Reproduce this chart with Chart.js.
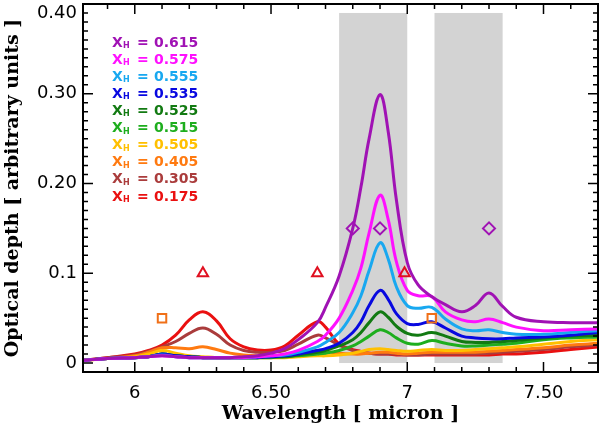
<!DOCTYPE html>
<html>
<head>
<meta charset="utf-8">
<script src="https://cdn.jsdelivr.net/npm/chart.js@4.4.1/dist/chart.umd.min.js"></script>
<style>
  body { margin: 0; background: #fff; }
</style>
</head>
<body>
<canvas id="opticalDepthChart" width="600" height="429"></canvas>
<script>
// wavelength grid (micron)
const wavelength = [5.81, 5.9, 6.0, 6.05, 6.1, 6.15, 6.2, 6.25, 6.3, 6.35, 6.4, 6.45, 6.5, 6.55, 6.6, 6.67, 6.7, 6.75,
  6.8, 6.83, 6.86, 6.9, 6.93, 6.96, 7.0, 7.04, 7.09, 7.14, 7.2, 7.25, 7.3, 7.35, 7.4, 7.5, 7.6, 7.7];

// optical depth, one list per X_H
const xh615 = [0.003, 0.005, 0.006, 0.007, 0.008, 0.007, 0.006, 0.006, 0.006, 0.006, 0.007, 0.008, 0.011, 0.016, 0.026, 0.045, 0.062, 0.097,
  0.150, 0.196, 0.250, 0.299, 0.258, 0.182, 0.112, 0.087, 0.074, 0.065, 0.057, 0.064, 0.078, 0.063, 0.051, 0.046, 0.045, 0.045];
const xh575 = [0.003, 0.005, 0.006, 0.007, 0.008, 0.007, 0.006, 0.006, 0.006, 0.006, 0.006, 0.007, 0.008, 0.010, 0.014, 0.024, 0.031, 0.050,
  0.081, 0.106, 0.145, 0.187, 0.160, 0.113, 0.081, 0.075, 0.074, 0.057, 0.048, 0.046, 0.049, 0.045, 0.040, 0.036, 0.037, 0.038];
const xh555 = [0.003, 0.005, 0.006, 0.007, 0.009, 0.007, 0.006, 0.006, 0.006, 0.006, 0.006, 0.007, 0.008, 0.009, 0.012, 0.018, 0.023, 0.034,
  0.056, 0.075, 0.103, 0.134, 0.116, 0.085, 0.064, 0.061, 0.062, 0.049, 0.038, 0.036, 0.037, 0.034, 0.032, 0.032, 0.034, 0.036];
const xh535 = [0.003, 0.005, 0.006, 0.007, 0.010, 0.008, 0.007, 0.006, 0.006, 0.006, 0.006, 0.006, 0.007, 0.008, 0.010, 0.014, 0.016, 0.022,
  0.034, 0.046, 0.064, 0.081, 0.071, 0.055, 0.044, 0.043, 0.046, 0.039, 0.030, 0.028, 0.027, 0.027, 0.028, 0.029, 0.031, 0.034];
const xh525 = [0.003, 0.005, 0.006, 0.007, 0.010, 0.008, 0.007, 0.006, 0.006, 0.006, 0.006, 0.006, 0.007, 0.007, 0.009, 0.012, 0.014, 0.019,
  0.026, 0.034, 0.045, 0.057, 0.051, 0.041, 0.033, 0.031, 0.034, 0.030, 0.024, 0.023, 0.023, 0.024, 0.025, 0.028, 0.030, 0.031];
const xh515 = [0.003, 0.005, 0.006, 0.007, 0.010, 0.008, 0.007, 0.006, 0.006, 0.006, 0.006, 0.006, 0.006, 0.007, 0.008, 0.010, 0.011, 0.014,
  0.019, 0.024, 0.030, 0.037, 0.034, 0.028, 0.022, 0.021, 0.025, 0.022, 0.019, 0.019, 0.020, 0.021, 0.022, 0.026, 0.028, 0.029];
const xh505 = [0.003, 0.005, 0.007, 0.010, 0.014, 0.011, 0.008, 0.007, 0.006, 0.006, 0.006, 0.006, 0.006, 0.006, 0.007, 0.008, 0.008, 0.009,
  0.011, 0.013, 0.015, 0.016, 0.015, 0.014, 0.013, 0.014, 0.015, 0.014, 0.014, 0.015, 0.016, 0.017, 0.018, 0.021, 0.024, 0.026];
const xh405 = [0.003, 0.005, 0.008, 0.012, 0.017, 0.017, 0.016, 0.018, 0.015, 0.011, 0.009, 0.008, 0.008, 0.009, 0.011, 0.014, 0.013, 0.011,
  0.010, 0.010, 0.011, 0.012, 0.012, 0.011, 0.010, 0.011, 0.012, 0.012, 0.012, 0.012, 0.013, 0.014, 0.015, 0.017, 0.020, 0.022];
const xh305 = [0.003, 0.006, 0.009, 0.013, 0.018, 0.024, 0.033, 0.039, 0.032, 0.020, 0.014, 0.012, 0.012, 0.014, 0.021, 0.031, 0.028, 0.020,
  0.014, 0.012, 0.011, 0.010, 0.010, 0.010, 0.009, 0.009, 0.010, 0.010, 0.010, 0.010, 0.011, 0.012, 0.013, 0.015, 0.018, 0.020];
const xh175 = [0.003, 0.006, 0.010, 0.014, 0.020, 0.031, 0.048, 0.057, 0.047, 0.027, 0.018, 0.0145, 0.0145, 0.019, 0.031, 0.046, 0.040, 0.021,
  0.015, 0.013, 0.011, 0.010, 0.010, 0.009, 0.009, 0.009, 0.009, 0.009, 0.009, 0.009, 0.009, 0.010, 0.010, 0.012, 0.015, 0.018];

const seriesValues = [xh615, xh575, xh555, xh535, xh525, xh515, xh505, xh405, xh305, xh175];
const seriesNames = ['0.615', '0.575', '0.555', '0.535', '0.525', '0.515', '0.505', '0.405', '0.305', '0.175'];
const seriesColors = ['#a012b4', '#ff10ff', '#18a8f0', '#0808e0', '#127a12', '#1eae1e', '#ffc000', '#ff7a10', '#aa3c3c', '#ea1010'];

// band markers
const diamondX = [6.80, 6.90, 7.30];
const diamondY = [0.15, 0.15, 0.15];
const triangleX = [6.25, 6.67, 6.99];
const triangleY = [0.10, 0.10, 0.10];
const squareX = [6.10, 7.09];
const squareY = [0.05, 0.05];

// shaded wavelength windows
const bandStart = [6.75, 7.10];
const bandEnd = [7.00, 7.35];
const bandTop = 0.39;

// axes
const xTicks = [6, 6.5, 7, 7.5];
const xTickLabels = ['6', '6.50', '7', '7.50'];
const yTicks = [0, 0.1, 0.2, 0.3, 0.4];
const yTickLabels = ['0', '0.1', '0.20', '0.30', '0.40'];

const toPoints = (xs, ys) => xs.map((x, i) => ({ x: x, y: ys[i] }));

const datasets = seriesValues.map((vals, i) => ({
  data: toPoints(wavelength, vals),
  borderColor: seriesColors[i],
  borderWidth: 3,
  pointRadius: 0,
  tension: 0.4,
  order: i - 20
})).reverse();

const markerSet = (xs, ys, style, color, r) => ({
  data: toPoints(xs, ys),
  showLine: false,
  pointStyle: style,
  pointRadius: r,
  pointBorderWidth: 2,
  pointBorderColor: color,
  pointBackgroundColor: 'rgba(0,0,0,0)',
  order: -50
});
datasets.push(markerSet(diamondX, diamondY, 'rectRot', '#a012b4', 6));
datasets.push(markerSet(triangleX, triangleY, 'triangle', '#e01020', 6));
datasets.push(markerSet(squareX, squareY, 'rect', '#f07018', 6));

const bandsPlugin = {
  id: 'bands',
  beforeDatasetsDraw(chart) {
    const { ctx, scales: { x, y } } = chart;
    ctx.save();
    ctx.fillStyle = '#d3d3d3';
    for (let i = 0; i < bandStart.length; i++) {
      const x0 = x.getPixelForValue(bandStart[i]);
      const x1 = x.getPixelForValue(bandEnd[i]);
      const y0 = y.getPixelForValue(bandTop);
      const y1 = y.getPixelForValue(0);
      ctx.fillRect(x0, y0, x1 - x0, y1 - y0);
    }
    ctx.restore();
  }
};

// IDL style frame with inward ticks on all four sides
const framePlugin = {
  id: 'frame',
  afterDraw(chart) {
    const { ctx, chartArea: { left, right, top, bottom }, scales: { x, y } } = chart;
    ctx.save();
    ctx.strokeStyle = '#000';
    ctx.lineWidth = 1.5;
    ctx.beginPath();
    for (let k = 59; k <= 77; k++) {
      const px = x.getPixelForValue(k / 10);
      const len = k % 5 === 0 ? 10 : 5;
      ctx.moveTo(px, bottom); ctx.lineTo(px, bottom - len);
      ctx.moveTo(px, top); ctx.lineTo(px, top + len);
    }
    for (let k = 0; k <= 40; k++) {
      const py = y.getPixelForValue(k / 100);
      const len = k % 10 === 0 ? 10 : 5;
      ctx.moveTo(left, py); ctx.lineTo(left + len, py);
      ctx.moveTo(right, py); ctx.lineTo(right - len, py);
    }
    ctx.stroke();
    ctx.lineWidth = 2;
    ctx.strokeRect(left, top, right - left, bottom - top);
    ctx.restore();
  }
};

// X_H labels inside the plot
const keyPlugin = {
  id: 'key',
  afterDatasetsDraw(chart) {
    const ctx = chart.ctx;
    ctx.save();
    ctx.textBaseline = 'middle';
    ctx.textAlign = 'left';
    seriesNames.forEach((name, i) => {
      const yy = 43 + i * 17.1;
      ctx.fillStyle = seriesColors[i];
      ctx.font = 'bold 14px "DejaVu Sans"';
      ctx.fillText('X', 112, yy);
      ctx.font = 'bold 8px "DejaVu Sans"';
      ctx.fillText('H', 123, yy + 3);
      ctx.font = 'bold 14px "DejaVu Sans"';
      ctx.fillText('=', 137, yy);
      ctx.fillText(name, 154, yy);
    });
    ctx.restore();
  }
};

const tickFont = { family: 'DejaVu Sans', size: 18 };
const titleFont = { family: 'DejaVu Serif', size: 19, weight: 'bold' };

const ctx = document.getElementById('opticalDepthChart').getContext('2d');
const opticalDepthChart = new Chart(ctx, {
  type: 'line',
  data: { datasets: datasets },
  options: {
    responsive: false,
    animation: false,
    layout: { autoPadding: false, padding: { top: 4, right: 2, left: 0, bottom: 0 } },
    plugins: { legend: { display: false }, tooltip: { enabled: false } },
    scales: {
      x: {
        type: 'linear',
        min: 5.81,
        max: 7.7,
        afterBuildTicks: s => { s.ticks = xTicks.map(v => ({ value: v })); },
        afterFit: s => { s.height = 57; s.paddingLeft = 0; s.paddingRight = 0; },
        ticks: {
          callback: (v, i) => xTickLabels[i],
          font: tickFont, color: '#000', padding: 11, maxRotation: 0, autoSkip: false
        },
        grid: { display: false, drawTicks: false },
        border: { display: false },
        title: { display: true, text: 'Wavelength [ micron ]', font: titleFont, color: '#000', padding: { top: 0, bottom: 4 } }
      },
      y: {
        type: 'linear',
        min: -0.01,
        max: 0.40,
        afterBuildTicks: s => { s.ticks = yTicks.map(v => ({ value: v })); },
        afterFit: s => { s.width = 83; s.paddingTop = 0; s.paddingBottom = 0; },
        ticks: {
          // top label sits just under the frame, as in the original
          callback: (v, i) => (i === yTicks.length - 1 ? ['', yTickLabels[i]] : yTickLabels[i]),
          font: { family: 'DejaVu Sans', size: 18, lineHeight: 1.0 },
          color: '#000', padding: 6, autoSkip: false
        },
        grid: { display: false, drawTicks: false },
        border: { display: false },
        title: { display: true, text: 'Optical depth [ arbitrary units ]', font: titleFont, color: '#000', padding: { top: 2, bottom: 0 } }
      }
    }
  },
  plugins: [bandsPlugin, keyPlugin, framePlugin]
});
</script>
</body>
</html>
